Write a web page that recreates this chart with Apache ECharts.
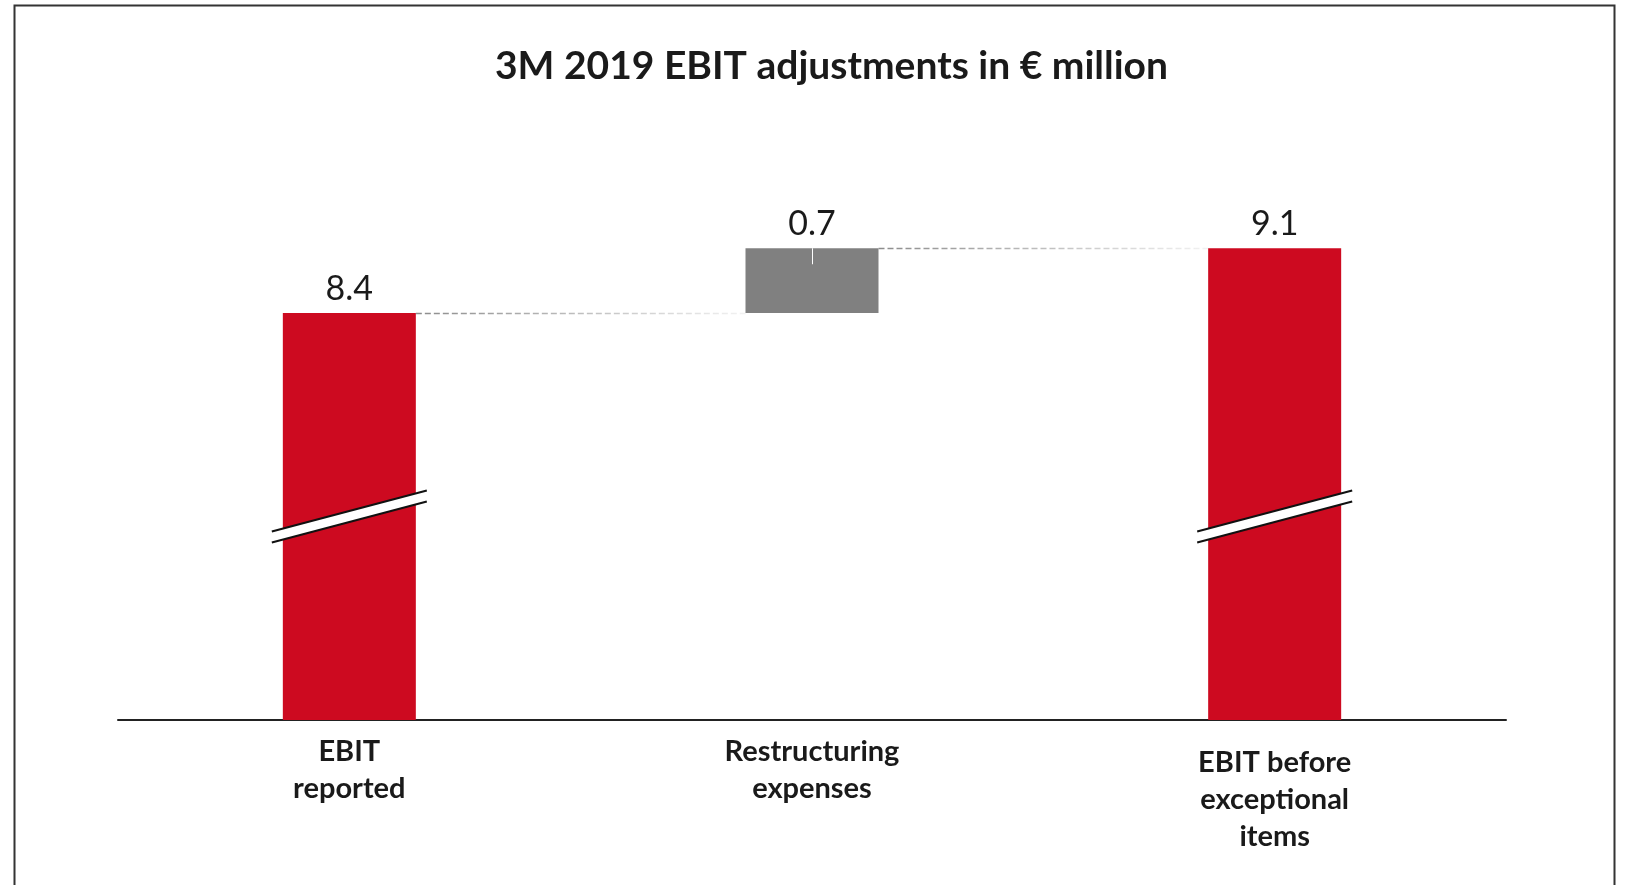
<!DOCTYPE html>
<html>
<head>
<meta charset="utf-8">
<title>3M 2019 EBIT adjustments</title>
<script src="https://cdn.jsdelivr.net/npm/echarts@6/dist/echarts.min.js"></script>
<style>
  html, body { margin: 0; padding: 0; background: #fff; }
  #chart { width: 1625px; height: 885px; }
</style>
</head>
<body>
<div id="chart"></div>
<script>
// data
const categories = ['EBIT\nreported', 'Restructuring\nexpenses', 'EBIT before\nexceptional\nitems']
const values = [8.4, 0.7, 9.1]
const isTotal = [true, false, true]
// the y axis is cut on the total bars at this value
const breakValue = 6.2

const RED = '#CD0A20'
const GREY = '#808080'
const FONT = 'Lato'
const BAR_W = 133

// waterfall: transparent base under the step bars
let running = 0
const baseList = []
const connectors = []
const steps = []
values.forEach((v, i) => {
  if (isTotal[i]) {
    baseList.push(0)
    running = v
  } else {
    baseList.push(running)
    running = running + v
    steps.push([i, running])
  }
  if (i < values.length - 1) connectors.push([i, running])
})
const breaks = []
values.forEach((v, i) => { if (isTotal[i]) breaks.push([i, breakValue]) })

var myChart = echarts.init(document.getElementById('chart'))

const option = {
  animation: false,
  backgroundColor: '#fff',
  graphic: [
    {
      type: 'rect',
      shape: { x: 14.5, y: 5.5, width: 1600, height: 900 },
      style: { fill: 'none', stroke: '#333', lineWidth: 2 },
      silent: true
    }
  ],
  title: {
    text: '3M 2019 EBIT adjustments in € million',
    left: 490,
    top: 42,
    textStyle: {
      fontFamily: FONT,
      fontSize: 39,
      fontWeight: 'bold',
      color: '#1a1a1a'
    }
  },
  grid: {
    top: 165,
    bottom: 165,
    left: 118,
    right: 119
  },
  xAxis: {
    type: 'category',
    data: categories,
    axisTick: { show: false },
    axisLine: { lineStyle: { color: '#222', width: 2 } },
    axisLabel: {
      interval: 0,
      margin: 13,
      formatter: function (v) {
        const lines = v.split('\n')
        const body = lines.map(l => '{a|' + l + '}').join('\n')
        // three-line label sits a little lower
        return lines.length > 2 ? '{s| }\n' + body : body
      },
      rich: {
        a: {
          fontFamily: FONT,
          fontSize: 29,
          fontWeight: 'bold',
          color: '#1a1a1a',
          lineHeight: 37
        },
        s: { fontSize: 1, lineHeight: 11 }
      }
    }
  },
  yAxis: {
    type: 'value',
    min: 4,
    max: 10,
    show: false,
    splitLine: { show: false }
  },
  series: [
    {
      name: 'base',
      type: 'bar',
      stack: 'wf',
      barWidth: BAR_W,
      silent: true,
      itemStyle: { color: 'transparent' },
      data: baseList
    },
    {
      name: 'value',
      type: 'bar',
      stack: 'wf',
      barWidth: BAR_W,
      itemStyle: {
        color: function (p) { return isTotal[p.dataIndex] ? RED : GREY }
      },
      label: {
        show: true,
        position: 'top',
        distance: 7,
        fontFamily: FONT,
        fontSize: 34,
        color: '#1a1a1a',
        formatter: function (p) { return values[p.dataIndex].toFixed(1) }
      },
      data: values
    },
    {
      // dashed fading connectors between bars
      name: 'connector',
      type: 'custom',
      silent: true,
      z: 1,
      data: connectors,
      renderItem: function (params, api) {
        const p = api.coord([api.value(0), api.value(1)])
        const band = api.size([1, 0])[0]
        const x1 = p[0] + BAR_W / 2
        const x2 = p[0] + band - BAR_W / 2
        const y = Math.round(p[1]) + 0.5
        return {
          type: 'line',
          shape: { x1: x1, y1: y, x2: x2, y2: y },
          style: {
            stroke: new echarts.graphic.LinearGradient(x1, y, x2, y, [
              { offset: 0, color: '#8c8c8c' },
              { offset: 1, color: '#f2f2f2' }
            ], true),
            lineWidth: 1.5,
            lineDash: [6, 3]
          }
        }
      }
    },
    {
      // small white tick at the top of the step bar
      name: 'tick',
      type: 'custom',
      silent: true,
      z: 5,
      data: steps,
      renderItem: function (params, api) {
        const p = api.coord([api.value(0), api.value(1)])
        const x = Math.round(p[0]) + 0.5
        return {
          type: 'line',
          shape: { x1: x, y1: p[1], x2: x, y2: p[1] + 16 },
          style: { stroke: '#fff', lineWidth: 1 }
        }
      }
    },
    {
      // axis break marks on the total bars
      name: 'break',
      type: 'custom',
      silent: true,
      z: 5,
      data: breaks,
      renderItem: function (params, api) {
        const p = api.coord([api.value(0), api.value(1)])
        const cx = p[0]
        const cy = p[1]
        const hw = BAR_W / 2 + 11
        const rise = 20.5
        const gap = 5.5
        const a = [cx - hw, cy - gap + rise]
        const b = [cx + hw, cy - gap - rise]
        const c = [cx + hw, cy + gap - rise]
        const d = [cx - hw, cy + gap + rise]
        return {
          type: 'group',
          children: [
            {
              type: 'polygon',
              shape: { points: [a, b, c, d] },
              style: { fill: '#fff' }
            },
            {
              type: 'line',
              shape: { x1: a[0], y1: a[1], x2: b[0], y2: b[1] },
              style: { stroke: '#111', lineWidth: 2 }
            },
            {
              type: 'line',
              shape: { x1: d[0], y1: d[1], x2: c[0], y2: c[1] },
              style: { stroke: '#111', lineWidth: 2 }
            }
          ]
        }
      }
    }
  ]
}

myChart.setOption(option)
</script>
</body>
</html>
